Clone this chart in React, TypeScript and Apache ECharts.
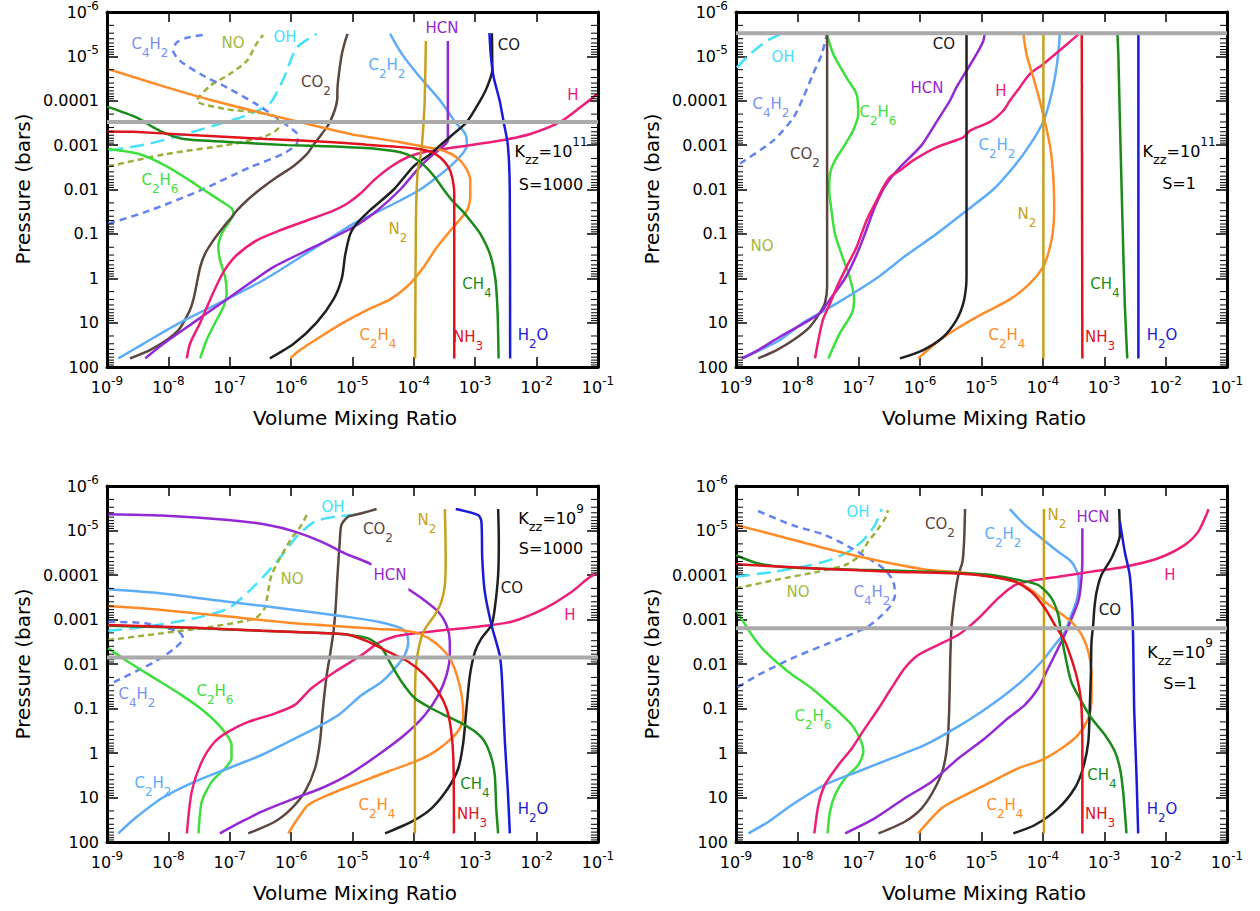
import React, { useEffect, useRef } from 'react';
import * as echarts from 'echarts';

type Pt = [number, number];

// ---------------- Panel 1: Kzz = 1e11, S = 1000 ----------------
const A_H2O: Pt[] = [[3.7e-3,64],[3.65e-3,1e-2],[3.4e-3,1e-3],[2.9e-3,3e-4],[2.5e-3,1e-4],[2.0e-3,3e-5],[1.8e-3,1e-5],[1.7e-3,3e-6]];
const A_CO: Pt[] = [[4.5e-7,64],[1.1e-6,30],[2.6e-6,10],[4.9e-6,3],[6.7e-6,1],[7.6e-6,0.3],[9.2e-6,0.1],[1.17e-5,0.059],[1.9e-5,0.03],[4.7e-5,0.01],[9.9e-5,3e-3],[1.85e-4,1.6e-3],[2.7e-4,1e-3],[4.4e-4,5.6e-4],[7.3e-4,3e-4],[1.2e-3,1e-4],[1.55e-3,5e-5],[1.9e-3,2e-5],[1.87e-3,3e-6]];
const A_NH3: Pt[] = [[4.55e-4,64],[4.55e-4,1.2e-2],[4.2e-4,5.3e-3],[3.7e-4,3.2e-3],[2.7e-4,1.9e-3],[1.85e-4,1.4e-3],[1.12e-4,1.2e-3],[4.7e-5,1.08e-3],[1.7e-5,9.8e-4],[4.9e-6,8.6e-4],[4e-7,7.3e-4],[3.3e-8,6.1e-4],[2.7e-9,5e-4],[1.0e-9,4.9e-4]];
const A_CH4: Pt[] = [[2.4e-3,64],[2.34e-3,10],[2.26e-3,3],[2.12e-3,1],[1.76e-3,0.3],[1.21e-3,0.1],[8.3e-4,0.05],[6.1e-4,0.03],[4.2e-4,0.0177],[3.05e-4,0.01],[2.2e-4,5.3e-3],[1.53e-4,3e-3],[9.9e-5,1.9e-3],[6e-5,1.45e-3],[2.5e-5,1.22e-3],[4.9e-6,1.08e-3],[8.5e-7,1e-3],[1.15e-7,8.6e-4],[1.76e-8,7.3e-4],[9.4e-9,5.6e-4],[5.7e-9,4e-4],[3.05e-9,2.4e-4],[1.0e-9,1.36e-4]];
const A_N2: Pt[] = [[1.05e-4,64],[1.08e-4,0.05],[1.15e-4,4e-3],[1.27e-4,1.9e-3],[1.35e-4,1e-3],[1.44e-4,3e-4],[1.5e-4,1e-4],[1.57e-4,4.5e-6]];
const A_HCN: Pt[] = [[4.2e-9,64],[8.3e-9,30],[2.56e-8,10],[8.9e-8,3],[2.75e-7,1],[5.15e-7,0.56],[2.3e-6,0.2],[1.04e-5,0.07],[2.5e-5,0.03],[6e-5,0.01],[1.27e-4,3e-3],[2.1e-4,1.6e-3],[2.86e-4,1.12e-3],[3.58e-4,7.9e-4],[3.58e-4,4.5e-6]];
const A_C2H2: Pt[] = [[1.53e-9,64],[3.9e-9,30],[1.55e-8,10],[8.9e-8,3],[4e-7,1],[1.6e-6,0.3],[5.6e-6,0.1],[1.04e-5,0.059],[2.8e-5,0.03],[6e-5,0.0177],[1.27e-4,0.01],[2.37e-4,5.3e-3],[3.9e-4,3e-3],[6.1e-4,1.6e-3],[7.3e-4,1e-3],[6.9e-4,5.6e-4],[4.7e-4,3e-4],[2.7e-4,1e-4],[1.27e-4,3e-5],[6.4e-5,8.9e-6],[4.1e-5,3.1e-6]];
const A_C2H4: Pt[] = [[9.6e-7,64],[1.4e-6,41.5],[3.0e-6,20.8],[7.1e-6,10],[1.71e-5,5.2],[4.1e-5,3],[8.7e-5,1.32],[1.44e-4,0.56],[2.37e-4,0.2],[4.4e-4,0.07],[7.3e-4,0.03],[8.3e-4,0.0149],[8.3e-4,6.3e-3],[6.9e-4,3.15e-3],[5e-4,1.9e-3],[3.05e-4,1.34e-3],[1.63e-4,1.12e-3],[6e-5,8.6e-4],[9.2e-6,5.6e-4],[1.8e-6,3.3e-4],[4e-7,2e-4],[5.4e-8,1e-4],[9.4e-9,5e-5],[1.05e-9,1.94e-5]];
const A_H: Pt[] = [[2e-8,64],[2.25e-8,30],[3.3e-8,10],[4.8e-8,3],[6.95e-8,1],[8.9e-8,0.56],[1.3e-7,0.3],[2.75e-7,0.14],[6.6e-7,0.083],[1.8e-6,0.05],[4.9e-6,0.03],[8.1e-6,0.021],[1.33e-5,0.0125],[2.2e-5,6.3e-3],[4.1e-5,3.15e-3],[7.7e-5,1.9e-3],[1.44e-4,1.45e-3],[3.05e-4,1.22e-3],[7.3e-4,1.03e-3],[2.56e-3,7.9e-4],[7.9e-3,5.6e-4],[0.0243,3e-4],[0.0515,1.4e-4],[0.0964,7.1e-5]];
const A_CO2: Pt[] = [[2.37e-9,64],[5e-9,41.5],[9.4e-9,24.7],[1.46e-8,14.7],[1.76e-8,10],[2.25e-8,5.2],[2.56e-8,3],[2.9e-8,1.32],[3.3e-8,0.56],[3.96e-8,0.28],[5.4e-8,0.14],[7.9e-8,0.07],[1.08e-7,0.042],[1.3e-7,0.03],[1.9e-7,0.0177],[3.1e-7,0.01],[5.8e-7,5.3e-3],[1.09e-6,3e-3],[1.8e-6,1.6e-3],[2.3e-6,1e-3],[3.16e-6,5.6e-4],[4.3e-6,3e-4],[5.6e-6,1e-4],[5.7e-6,5e-5],[6.1e-6,2.1e-5],[6.7e-6,8.9e-6],[7.6e-6,4.5e-6],[8.3e-6,3.1e-6]];
const A_C2H6: Pt[] = [[1.05e-9,1.22e-3],[3.45e-9,1.6e-3],[9.4e-9,3e-3],[2.25e-8,6.3e-3],[3.7e-8,0.01],[6.95e-8,0.0177],[1.08e-7,0.027],[1.15e-7,0.035],[1.01e-7,0.05],[7.4e-8,0.1],[6.5e-8,0.2],[6.95e-8,0.39],[8.4e-8,0.93],[8.9e-8,2.2],[7.9e-8,4.4],[5.8e-8,10],[4.2e-8,24.7],[3.3e-8,64]];
const A_OH: Pt[] = [[1.1e-9,1.33e-3],[5e-9,9.2e-4],[2e-8,5.5e-4],[1.47e-7,2.4e-4],[2.8e-7,1.68e-4],[4.5e-7,1.17e-4],[7.3e-7,3.5e-5],[1.24e-6,6.4e-6],[2.6e-6,3.1e-6]];
const A_NO: Pt[] = [[1.05e-9,3e-3],[9.4e-9,1.58e-3],[1.14e-7,9.4e-4],[4e-7,6.1e-4],[6.2e-7,4e-4],[5.8e-7,2.4e-4],[2.7e-7,1.83e-4],[8.9e-8,1.55e-4],[2.9e-8,1e-4],[4.8e-8,4.6e-5],[1e-7,2.5e-5],[1.9e-7,1.26e-5],[2.7e-7,5.3e-6],[3.5e-7,3.3e-6]];
const A_C4H2: Pt[] = [[1.05e-9,0.059],[5e-9,0.0297],[3.3e-8,0.0105],[2.1e-7,3.2e-3],[7.4e-7,1.58e-3],[1.23e-6,9.4e-4],[1.3e-6,6.1e-4],[9.5e-7,4e-4],[5.8e-7,2.4e-4],[2.7e-7,1.19e-4],[8.9e-8,5e-5],[3.3e-8,2.5e-5],[1.55e-8,1.26e-5],[1.2e-8,7.5e-6],[1.36e-8,4.9e-6],[2e-8,3.8e-6],[3.7e-8,3.3e-6]];
const A_GRAY = 3e-4;

// ---------------- Panel 2: Kzz = 1e11, S = 1 ----------------
const B_H2O: Pt[] = [[3.6e-3,64],[3.6e-3,3e-6]];
const B_CH4: Pt[] = [[2.37e-3,64],[2.16e-3,3.7],[1.98e-3,0.05],[1.8e-3,3e-4],[1.7e-3,1e-5],[1.64e-3,3e-6]];
const B_NH3: Pt[] = [[4.4e-4,64],[4.3e-4,3e-6]];
const B_N2: Pt[] = [[1.02e-4,64],[1.02e-4,3e-6]];
const B_CO: Pt[] = [[4.7e-7,64],[1.12e-6,41.5],[2.4e-6,20.8],[3.9e-6,8.8],[5.05e-6,3.7],[5.6e-6,1.57],[5.7e-6,0.79],[5.7e-6,3e-6]];
const B_C2H2: Pt[] = [[1.3e-9,64],[2.46e-9,41.5],[5.2e-9,24.7],[1.25e-8,10],[2.3e-8,6.2],[5.6e-8,3],[1.95e-7,1],[6e-7,0.3],[1.85e-6,0.1],[5.7e-6,0.03],[1.55e-5,0.01],[3.3e-5,3.15e-3],[6.1e-5,1e-3],[1.01e-4,3e-4],[1.3e-4,1e-4],[1.57e-4,3e-5],[1.78e-4,8.9e-6],[1.89e-4,3e-6]];
const B_C2H4: Pt[] = [[9.3e-7,64],[2.1e-6,24.7],[4.45e-6,12.4],[1.07e-5,6.2],[2.9e-5,3],[6.1e-5,1.32],[1.01e-4,0.56],[1.22e-4,0.28],[1.44e-4,0.1],[1.53e-4,0.03],[1.51e-4,0.01],[1.44e-4,3.15e-3],[1.3e-4,1e-3],[1.08e-4,3e-4],[8.9e-5,1e-4],[7e-5,3e-5],[5.4e-5,8.9e-6],[4.8e-5,3e-6]];
const B_H: Pt[] = [[1.94e-8,64],[2.2e-8,24.7],[2.6e-8,8.8],[3.4e-8,3.7],[4.4e-8,1.57],[6.3e-8,0.56],[9.2e-8,0.2],[1.34e-7,0.05],[1.95e-7,0.0177],[2.5e-7,8.9e-3],[3.2e-7,5.3e-3],[4.7e-7,3.7e-3],[7.7e-7,2.2e-3],[1.85e-6,1.12e-3],[5.05e-6,6.7e-4],[6.5e-6,4.7e-4],[1.37e-5,3e-4],[2.26e-5,1.68e-4],[2.9e-5,1e-4],[4.2e-5,5e-5],[6.1e-5,2.5e-5],[1.01e-4,1.5e-5],[2.14e-4,6.3e-6],[4e-4,3e-6]];
const B_HCN: Pt[] = [[1.24e-9,64],[2.3e-9,41.5],[5.2e-9,20.8],[1.33e-8,10],[2.3e-8,6.2],[3.4e-8,3],[6e-8,1],[9.2e-8,0.3],[1.26e-7,0.1],[1.73e-7,0.03],[2.5e-7,0.01],[3.4e-7,5.3e-3],[4.7e-7,3.15e-3],[1.06e-6,1e-3],[1.85e-6,3e-4],[3.05e-6,1e-4],[3.9e-6,5e-5],[5.7e-6,2.1e-5],[8.3e-6,8.9e-6],[1.07e-5,4.5e-6],[1.13e-5,3e-6]];
const B_CO2: Pt[] = [[2.3e-9,64],[4.6e-9,41.5],[8.6e-9,24.7],[1.6e-8,12.4],[2.3e-8,6.2],[2.8e-8,3.7],[3.05e-8,1.57],[3.05e-8,3e-6]];
const B_C2H6: Pt[] = [[3.2e-8,64],[4.9e-8,17.5],[7.7e-8,6.2],[8.4e-8,3],[7.2e-8,1],[5.3e-8,0.3],[4.1e-8,0.1],[3.6e-8,0.03],[3.3e-8,0.01],[3.4e-8,4.4e-3],[4.1e-8,2.2e-3],[5.6e-8,1.12e-3],[8.1e-8,4.7e-4],[9.8e-8,2e-4],[9.2e-8,7.1e-5],[6.3e-8,3e-5],[3.85e-8,8.9e-6],[3e-8,3e-6]];
const B_C4H2: Pt[] = [[1.16e-9,2.6e-3],[4.05e-9,7.9e-4],[8.6e-9,2.4e-4],[1.25e-8,8.4e-5],[1.8e-8,2.5e-5],[2.5e-8,8.9e-6],[3e-8,3.2e-6]];
const B_OH: Pt[] = [[1.03e-9,1.79e-5],[1.69e-9,8.9e-6],[3.16e-9,4.5e-6],[5.2e-9,3.2e-6]];
const B_GRAY = 3e-6;

// ---------------- Panel 3: Kzz = 1e9, S = 1000 ----------------
const C_H2O: Pt[] = [[3.66e-3,64],[3.4e-3,7.4],[3.04e-3,0.56],[2.7e-3,0.0177],[2.5e-3,6.3e-3],[1.84e-3,1.33e-3],[1.43e-3,2.4e-4],[1.3e-3,4.2e-5],[1.26e-3,6.3e-6],[1.12e-3,4.5e-6],[4.8e-4,3.3e-6]];
const C_CO: Pt[] = [[3.4e-5,64],[9.2e-5,35],[1.94e-4,17.5],[3.6e-4,6.2],[5.3e-4,2.2],[6.4e-4,0.56],[7.2e-4,0.099],[8.2e-4,0.0177],[9.9e-4,5.3e-3],[1.26e-3,2.65e-3],[1.84e-3,1.33e-3],[2.08e-3,5.6e-4],[2.36e-3,1e-4],[2.42e-3,1.78e-5],[2.36e-3,3.3e-6]];
const C_N2: Pt[] = [[1.04e-4,64],[1.04e-4,0.1],[1.06e-4,0.0177],[1.1e-4,8.9e-3],[1.2e-4,4.4e-3],[1.37e-4,2.2e-3],[1.6e-4,1.45e-3],[2.2e-4,7.9e-4],[2.8e-4,4e-4],[3.2e-4,1.68e-4],[3.3e-4,4.2e-5],[3.2e-4,3.3e-6]];
const C_NH3: Pt[] = [[4.5e-4,64],[4.4e-4,1.32],[4e-4,0.28],[3.4e-4,0.1],[2.5e-4,0.042],[1.51e-4,0.0177],[8.1e-5,8.9e-3],[3.8e-5,5.3e-3],[1.8e-5,3.15e-3],[8.5e-6,2.2e-3],[4e-6,2.05e-3],[3.3e-7,1.78e-3],[2.7e-8,1.53e-3],[1.05e-9,1.33e-3]];
const C_CH4: Pt[] = [[2.36e-3,64],[2.2e-3,17.5],[2.08e-3,3.1],[1.84e-3,1.32],[1.43e-3,0.56],[9.9e-4,0.33],[6e-4,0.215],[3.6e-4,0.153],[1.94e-4,0.1],[1.04e-4,0.059],[6.3e-5,0.025],[4.3e-5,0.0105],[3e-5,4.4e-3],[1.8e-5,2.65e-3],[8.5e-6,2.2e-3],[4e-6,2.05e-3],[3.3e-7,1.8e-3],[2.7e-8,1.56e-3],[1.05e-9,1.38e-3]];
const C_HCN: Pt[] = [[6.9e-8,64],[1.56e-7,35],[3.3e-7,20.8],[1.15e-6,10.4],[3.1e-6,6.2],[8.5e-6,3.1],[2.6e-5,1.11],[7.1e-5,0.39],[1.51e-4,0.14],[2.5e-4,0.05],[3.4e-4,0.0177],[3.85e-4,6.3e-3],[3.85e-4,3.15e-3],[3.4e-4,1.33e-3],[2.5e-4,6.7e-4],[1.33e-4,3.3e-4],[7.1e-5,1.83e-4],[2.05e-5,5.8e-5],[7.5e-6,3.26e-5],[3.1e-6,1.78e-5],[1.15e-6,1.06e-5],[4.2e-7,7.5e-6],[9.5e-8,5.8e-6],[7.8e-9,4.6e-6],[1.05e-9,4.3e-6]];
const C_C2H2: Pt[] = [[1.53e-9,64],[2.9e-9,29],[7.8e-9,10.4],[2.7e-8,4.4],[9.5e-8,2.2],[3.3e-7,1.11],[9e-7,0.56],[2.45e-6,0.28],[5.9e-6,0.14],[1.41e-5,0.05],[3e-5,0.025],[4.9e-5,0.0125],[7.1e-5,6.3e-3],[8.1e-5,3.15e-3],[7.6e-5,2.05e-3],[6.3e-5,1.58e-3],[2.6e-5,1.12e-3],[7.5e-6,8.6e-4],[1.15e-6,6.1e-4],[9.5e-8,4e-4],[7.8e-9,2.6e-4],[1.05e-9,2.1e-4]];
const C_C2H4: Pt[] = [[9e-7,64],[1.3e-6,29],[1.9e-6,14.7],[4e-6,8.8],[1.41e-5,4.4],[3.8e-5,2.6],[1.04e-4,1.57],[2.2e-4,0.93],[4.1e-4,0.47],[5.6e-4,0.28],[6.4e-4,0.14],[6e-4,0.05],[5e-4,0.0177],[3.85e-4,7.5e-3],[2.8e-4,4.4e-3],[1.94e-4,2.9e-3],[1.18e-4,2.05e-3],[6.3e-5,1.75e-3],[2.6e-5,1.63e-3],[7.5e-6,1.45e-3],[1.15e-6,1.22e-3],[9.5e-8,8.6e-4],[7.8e-9,6.1e-4],[1.05e-9,5e-4]];
const C_H: Pt[] = [[2e-8,64],[2.4e-8,7.4],[3.5e-8,1.57],[5.7e-8,0.56],[9.5e-8,0.33],[2e-7,0.2],[5.4e-7,0.13],[1.15e-6,0.083],[2.15e-6,0.035],[5.2e-6,0.0149],[1.41e-5,6.3e-3],[2.6e-5,3.4e-3],[4.9e-5,2.4e-3],[1.04e-4,2.05e-3],[3.2e-4,1.72e-3],[1.12e-3,1.45e-3],[3.9e-3,1.12e-3],[0.0136,5.6e-4],[0.037,2.4e-4],[0.069,1.19e-4],[0.094,9.2e-5]];
const C_CO2: Pt[] = [[2e-7,64],[5.4e-7,35],[1.02e-6,17.5],[1.68e-6,7.4],[2.45e-6,2.2],[2.95e-6,0.56],[3.3e-6,0.1],[3.8e-6,0.0177],[4.3e-6,6.3e-3],[4.9e-6,1.88e-3],[5.3e-6,5.6e-4],[5.7e-6,1e-4],[6.2e-6,1.78e-5],[6.6e-6,7.5e-6],[8.5e-6,4.9e-6],[1.41e-5,4.1e-6],[2.47e-5,3.3e-6]];
const C_C2H6: Pt[] = [[3.1e-8,64],[3.5e-8,12.4],[5.1e-8,4.4],[8.4e-8,2.2],[1.07e-7,1.32],[1.07e-7,0.66],[7.4e-8,0.28],[3.9e-8,0.118],[1.64e-8,0.05],[6e-9,0.021],[2.2e-9,8.9e-3],[1.05e-9,4.4e-3]];
const C_C4H2: Pt[] = [[1.05e-9,1.12e-3],[4.2e-9,1.22e-3],[1.45e-8,1.88e-3],[1.75e-8,2.65e-3],[1.28e-8,4.4e-3],[6e-9,8.9e-3],[2.9e-9,0.0149],[1.35e-9,0.025],[1.05e-9,0.031]];
const C_OH: Pt[] = [[1.05e-9,1.8e-3],[4.2e-9,1.45e-3],[2.7e-8,9.4e-4],[9.5e-8,5.6e-4],[2e-7,2.4e-4],[4.2e-7,8.4e-5],[7.9e-7,3e-5],[1.3e-6,1.26e-5],[2.45e-6,6.3e-6],[5.2e-6,4.9e-6],[1.41e-5,4.3e-6]];
const C_NO: Pt[] = [[1.05e-9,2.9e-3],[7.8e-9,2.05e-3],[5.1e-8,1.45e-3],[2.57e-7,9.4e-4],[3.7e-7,5.6e-4],[4.2e-7,2.4e-4],[4.8e-7,1e-4],[7e-7,3.6e-5],[1.02e-6,1.5e-5],[1.48e-6,7.5e-6],[1.79e-6,4.5e-6]];
const C_GRAY = 7.1e-3;

// ---------------- Panel 4: Kzz = 1e9, S = 1 ----------------
const D_H2O: Pt[] = [[3.57e-3,64],[3.35e-3,3.1],[3.07e-3,0.1],[2.96e-3,3.15e-3],[2.85e-3,5.6e-4],[2.6e-3,1e-4],[2.16e-3,3e-5],[1.8e-3,6.3e-6]];
const D_CO: Pt[] = [[3.3e-5,64],[7.4e-5,41.5],[1.78e-4,17.5],[3.3e-4,6.2],[4.5e-4,2.2],[5.5e-4,0.56],[5.8e-4,0.1],[6.05e-4,0.0177],[6.2e-4,3.15e-3],[6.6e-4,1.33e-3],[6.9e-4,5.6e-4],[7.5e-4,2.4e-4],[9e-4,1e-4],[1.31e-3,4.2e-5],[1.8e-3,1.26e-5],[1.75e-3,3.3e-6]];
const D_NH3: Pt[] = [[4.4e-4,64],[4.4e-4,0.56],[4.27e-4,0.1],[4e-4,0.042],[3.5e-4,0.0177],[2.9e-4,7.5e-3],[2.3e-4,3.15e-3],[1.57e-4,1.33e-3],[1.08e-4,5.6e-4],[6.5e-5,2.4e-4],[3.5e-5,1.41e-4],[1.46e-5,1.09e-4],[4.2e-6,9.3e-5],[3.4e-7,8.4e-5],[2.8e-8,7.3e-5],[1e-9,5.75e-5]];
const D_CH4: Pt[] = [[2.3e-3,64],[2.03e-3,7.4],[1.8e-3,2.2],[1.49e-3,0.93],[1.02e-3,0.39],[6.2e-4,0.166],[4.27e-4,0.07],[2.9e-4,0.025],[2.3e-4,6.3e-3],[2e-4,2.2e-3],[1.78e-4,7.9e-4],[1.38e-4,3.3e-4],[8.4e-5,1.68e-4],[4e-5,1.3e-4],[1.46e-5,1e-4],[1.2e-6,8.4e-5],[9.8e-8,7.6e-5],[8.1e-9,6.8e-5],[2.3e-9,5.5e-5],[1e-9,3.6e-5]];
const D_C2H4: Pt[] = [[9.3e-7,64],[2.24e-6,17.5],[5.4e-6,8.8],[1.46e-5,4.4],[4e-5,2.2],[9.5e-5,1.44],[2e-4,0.79],[3.76e-4,0.39],[5.5e-4,0.166],[6.2e-4,0.07],[6.2e-4,0.0177],[5.5e-4,5.3e-3],[4.27e-4,2.2e-3],[2.9e-4,1.12e-3],[1.78e-4,6.7e-4],[1.08e-4,4e-4],[6.5e-5,2.17e-4],[3.5e-5,1.41e-4],[1.46e-5,1.09e-4],[4.2e-6,8.7e-5],[1.2e-6,7.5e-5],[1.84e-7,4.6e-5],[2.8e-8,2.5e-5],[4.3e-9,1.26e-5],[1e-9,7.5e-6]];
const D_N2: Pt[] = [[1.04e-4,64],[1.04e-4,3.3e-6]];
const D_HCN: Pt[] = [[6e-8,64],[1.84e-7,29],[5.6e-7,10.4],[1.54e-6,4.4],[4.2e-6,1.32],[1.13e-5,0.47],[2.7e-5,0.166],[5.1e-5,0.083],[8.4e-5,0.035],[1.22e-4,0.0125],[1.78e-4,4.4e-3],[2.4e-4,1.88e-3],[3.1e-4,7.9e-4],[3.76e-4,4e-4],[4.16e-4,1.68e-4],[4.4e-4,4.2e-5],[4.4e-4,8.9e-6]];
const D_C2H2: Pt[] = [[1.59e-9,64],[3.4e-9,35],[8.1e-9,14.7],[2.8e-8,5.2],[9.8e-8,2.6],[3.4e-7,1.32],[1.2e-6,0.66],[3.7e-6,0.28],[1e-5,0.118],[2.4e-5,0.05],[5.1e-5,0.021],[9.5e-5,8.9e-3],[1.57e-4,3.7e-3],[2.3e-4,1.88e-3],[2.9e-4,7.9e-4],[3.5e-4,4e-4],[3.85e-4,1.68e-4],[3.76e-4,1e-4],[2.9e-4,5e-5],[1.78e-4,3e-5],[9.5e-5,1.5e-5],[5.1e-5,7.5e-6],[2.9e-5,3.3e-6]];
const D_H: Pt[] = [[1.89e-8,64],[2.2e-8,14.7],[2.8e-8,5.2],[4.65e-8,1.86],[7.7e-8,0.79],[1.26e-7,0.28],[2.1e-7,0.1],[3.4e-7,0.035],[5.6e-7,0.0125],[9.3e-7,6.3e-3],[1.97e-6,3.7e-3],[4.2e-6,2.2e-3],[8.9e-6,9.4e-4],[1.88e-5,3.3e-4],[3.5e-5,1.68e-4],[7.4e-5,1.3e-4],[1.78e-4,1.09e-4],[6.2e-4,8.4e-5],[2.17e-3,6.5e-5],[7.6e-3,4.2e-5],[0.0206,2.1e-5],[0.034,1.06e-5],[0.046,4.5e-6],[0.05,3.3e-6]];
const D_CO2: Pt[] = [[2.1e-7,64],[5.6e-7,35],[1.06e-6,17.5],[1.74e-6,6.2],[2.38e-6,2.2],[2.8e-6,0.56],[2.98e-6,0.1],[3.1e-6,7.5e-3],[3.26e-6,1.33e-3],[3.7e-6,2.8e-4],[4.2e-6,1e-4],[4.9e-6,5e-5],[5.2e-6,1.78e-5],[5.4e-6,3.3e-6]];
const D_C2H6: Pt[] = [[3.1e-8,64],[3.4e-8,20.8],[4.1e-8,8.8],[6e-8,3.7],[9.8e-8,1.86],[1.19e-7,0.93],[1.1e-7,0.56],[7.7e-8,0.235],[4.1e-8,0.1],[1.7e-8,0.035],[7.1e-9,0.0149],[3e-9,5.3e-3],[1.8e-9,2.2e-3],[1e-9,6.1e-4]];
const D_C4H2: Pt[] = [[2.3e-9,3.65e-6],[8.1e-9,7.5e-6],[2.8e-8,1.26e-5],[6.8e-8,2.3e-5],[1.43e-7,4.2e-5],[2.7e-7,7.7e-5],[3.65e-7,1.41e-4],[3.9e-7,2.8e-4],[3.2e-7,5.2e-4],[2.1e-7,9.4e-4],[1.26e-7,1.58e-3],[2.8e-8,3.7e-3],[8.1e-9,7.5e-3],[2.3e-9,0.0177],[1e-9,0.035]];
const D_OH: Pt[] = [[1e-9,1.09e-4],[4.3e-9,8.4e-5],[1.7e-8,5.96e-5],[4.1e-8,4.2e-5],[7.7e-8,2.7e-5],[1.26e-7,1.5e-5],[1.84e-7,7.5e-6],[2.36e-7,3.3e-6]];
const D_NO: Pt[] = [[1e-9,2e-4],[4.3e-9,1.3e-4],[2.2e-8,8.4e-5],[6e-8,5.96e-5],[9.8e-8,3.9e-5],[1.43e-7,1.78e-5],[2.1e-7,8.9e-6],[2.7e-7,5.3e-6],[3e-7,3.46e-6]];
const D_GRAY = 1.58e-3;

// ---------------- Axis ticks / panel texts ----------------
const X_MIN = 1e-9, X_MAX = 0.1;
const Y_MIN = 1e-6, Y_MAX = 100;
const Y_TICK_LABELS = ['{b|10}{s|-6}', '{b|10}{s|-5}', '{b|0.0001}', '{b|0.001}', '{b|0.01}', '{b|0.1}', '{b|1}', '{b|10}', '{b|100}'];
const MINOR_MANTISSA = [2, 3, 4, 5, 6, 7, 8, 9];
const MINOR_DECADES = [1e-6, 1e-5, 1e-4, 1e-3, 1e-2, 1e-1, 1, 10];
const KZZ_EXP = ['11', '11', '9', '9'];
const S_VALUES = ['1000', '1', '1000', '1'];
const GRAY_P = [A_GRAY, B_GRAY, C_GRAY, D_GRAY];

const PANEL_DATA: Record<string, Pt[]>[] = [
  { OH: A_OH, NO: A_NO, C4H2: A_C4H2, C2H6: A_C2H6, CO2: A_CO2, C2H2: A_C2H2, HCN: A_HCN, H: A_H, C2H4: A_C2H4, CO: A_CO, N2: A_N2, CH4: A_CH4, NH3: A_NH3, H2O: A_H2O },
  { OH: B_OH, C4H2: B_C4H2, C2H6: B_C2H6, CO2: B_CO2, C2H2: B_C2H2, HCN: B_HCN, H: B_H, C2H4: B_C2H4, CO: B_CO, N2: B_N2, CH4: B_CH4, NH3: B_NH3, H2O: B_H2O },
  { OH: C_OH, NO: C_NO, C4H2: C_C4H2, C2H6: C_C2H6, CO2: C_CO2, C2H2: C_C2H2, HCN: C_HCN, H: C_H, C2H4: C_C2H4, CO: C_CO, N2: C_N2, CH4: C_CH4, NH3: C_NH3, H2O: C_H2O },
  { OH: D_OH, NO: D_NO, C4H2: D_C4H2, C2H6: D_C2H6, CO2: D_CO2, C2H2: D_C2H2, HCN: D_HCN, H: D_H, C2H4: D_C2H4, CO: D_CO, N2: D_N2, CH4: D_CH4, NH3: D_NH3, H2O: D_H2O },
];

const DRAW_ORDER = ['OH', 'NO', 'C4H2', 'C2H6', 'CO2', 'C2H2', 'HCN', 'H', 'C2H4', 'CO', 'N2', 'CH4', 'NH3', 'H2O'];

const STYLE: Record<string, { color: string; dash?: number[]; label?: string }> = {
  H2O: { color: '#1a1ad8' },
  CO: { color: '#202020' },
  NH3: { color: '#e0141e' },
  CH4: { color: '#1a8a1a' },
  N2: { color: '#c9a020' },
  HCN: { color: '#9428d4' },
  C2H2: { color: '#5cacf8' },
  C2H4: { color: '#ff8c28' },
  H: { color: '#ee1e78' },
  CO2: { color: '#5c4640' },
  C2H6: { color: '#3ee03e' },
  OH: { color: '#44e2fa', dash: [14, 7] },
  NO: { color: '#9cb03a', dash: [6, 4], label: '#a4b840' },
  C4H2: { color: '#6482f0', dash: [7, 5], label: '#7a92f0' },
};

// layout (pixels)
const PANEL_POS: [number, number][] = [[107, 11], [736, 11], [107, 486], [736, 486]];
const PLOT_W = 491;
const PLOT_H = 356;
const FONT = 'DejaVu Sans';
// [x, y of Kzz line, y of S line]
const KZZ_POS: [number, number, number][] = [[551, 151, 184], [1179, 151, 183], [551, 518, 548], [1180, 652, 683]];

// species label placement: [species, x, y]
const LABELS: [string, number, number][][] = [
  [['C4H2', 150, 44], ['NO', 233, 43], ['OH', 285, 37], ['CO2', 316, 82], ['C2H2', 387, 65], ['HCN', 442, 28], ['CO', 509, 45], ['H', 573, 95],
   ['C2H6', 160, 180], ['N2', 398, 229], ['CH4', 477, 284], ['C2H4', 378, 335], ['NH3', 468, 337], ['H2O', 533, 335]],
  [['OH', 783, 57], ['C4H2', 771, 104], ['CO2', 805, 154], ['C2H6', 878, 112], ['CO', 944, 44], ['HCN', 927, 88], ['H', 1001, 91], ['C2H2', 997, 145],
   ['N2', 1027, 214], ['NO', 762, 246], ['CH4', 1105, 284], ['C2H4', 1007, 335], ['NH3', 1100, 337], ['H2O', 1162, 335]],
  [['OH', 333, 507], ['CO2', 378, 529], ['N2', 427, 520], ['NO', 292, 579], ['HCN', 390, 575], ['CO', 512, 588], ['H', 570, 615],
   ['C4H2', 137, 694], ['C2H6', 215, 691], ['C2H2', 153, 783], ['CH4', 475, 784], ['C2H4', 377, 805], ['NH3', 472, 814], ['H2O', 533, 809]],
  [['OH', 858, 512], ['CO2', 940, 524], ['N2', 1057, 515], ['HCN', 1093, 517], ['C2H2', 1003, 534], ['H', 1170, 575], ['NO', 798, 592],
   ['C4H2', 872, 592], ['CO', 1110, 610], ['C2H6', 813, 716], ['CH4', 1102, 775], ['C2H4', 1005, 805], ['NH3', 1100, 814], ['H2O', 1162, 809]],
];

const chem = (f: string) => f.replace(/([A-Za-z]+)|(\d+)/g, (_m, a, d) => (a ? `{n|${a}}` : `{s|${d}}`));

const LABEL_RICH = {
  n: { fontSize: 15, fontFamily: FONT, lineHeight: 30, verticalAlign: 'middle' },
  s: { fontSize: 12, fontFamily: FONT, lineHeight: 30, verticalAlign: 'bottom' },
  k: { fontSize: 16, fontFamily: FONT, lineHeight: 30, verticalAlign: 'middle' },
  ks: { fontSize: 13, fontFamily: FONT, lineHeight: 30, verticalAlign: 'bottom' },
  kp: { fontSize: 12, fontFamily: FONT, lineHeight: 30, verticalAlign: 'top' },
};

const TICK_RICH = {
  b: { fontSize: 16, fontFamily: FONT, color: '#000', lineHeight: 24, verticalAlign: 'middle' },
  s: { fontSize: 12, fontFamily: FONT, color: '#000', lineHeight: 24, verticalAlign: 'top' },
};

export default function App() {
  const ref = useRef<HTMLDivElement>(null);
  useEffect(() => {
    if (!ref.current) return;
    const chart = echarts.init(ref.current, undefined, { renderer: 'svg' });
    const grid: any[] = [];
    const xAxis: any[] = [];
    const yAxis: any[] = [];
    const series: any[] = [];
    const graphic: any[] = [];
    const minorP = MINOR_DECADES.flatMap((d) => MINOR_MANTISSA.map((m) => +(m * d).toPrecision(3)));

    const xFmt = (v: number) => `{b|10}{s|${Math.round(Math.log10(v))}}`;
    const yFmt = (v: number) => {
      const e = Math.round(Math.log10(v));
      return Y_TICK_LABELS[e + 6] ?? '';
    };
    const center = { align: 'center', verticalAlign: 'middle', textAlign: 'center', textVerticalAlign: 'middle' };

    PANEL_POS.forEach(([left, top], i) => {
      grid.push({ left, top, width: PLOT_W, height: PLOT_H, containLabel: false, show: false });
      const axisLine = { show: true, onZero: false, lineStyle: { color: '#000', width: 3 } };
      const xTick = { show: true, inside: true, length: 10, lineStyle: { color: '#000', width: 1.5 } };
      const yTick = { show: true, inside: true, length: 11, lineStyle: { color: '#000', width: 1.5 } };
      const common = { type: 'log', logBase: 10, gridIndex: i, splitLine: { show: false }, minorTick: { show: false }, minorSplitLine: { show: false }, axisPointer: { show: false } };
      xAxis.push({
        ...common, position: 'bottom', min: X_MIN, max: X_MAX, axisLine, axisTick: xTick,
        axisLabel: { show: true, interval: 0, showMinLabel: true, showMaxLabel: true, margin: 8, formatter: xFmt, rich: TICK_RICH },
      });
      xAxis.push({ ...common, position: 'top', min: X_MIN, max: X_MAX, axisLine, axisTick: xTick, axisLabel: { show: false } });
      yAxis.push({
        ...common, position: 'left', inverse: true, min: Y_MIN, max: Y_MAX, axisLine, axisTick: yTick,
        axisLabel: { show: true, interval: 0, showMinLabel: true, showMaxLabel: true, margin: 8, formatter: yFmt, rich: TICK_RICH },
      });
      yAxis.push({ ...common, position: 'right', inverse: true, min: Y_MIN, max: Y_MAX, axisLine, axisTick: yTick, axisLabel: { show: false } });

      const xi = 2 * i;
      // minor ticks on left and right y axes
      series.push({
        type: 'custom', xAxisIndex: xi, yAxisIndex: xi, silent: true, clip: false, z: 3,
        data: minorP.map((p) => [X_MIN, p]),
        renderItem: (_params: any, api: any) => {
          const p = api.value(1);
          const a = api.coord([X_MIN, p]);
          const b = api.coord([X_MAX, p]);
          return {
            type: 'group',
            children: [
              { type: 'line', shape: { x1: a[0], y1: a[1], x2: a[0] + 7, y2: a[1] }, style: { stroke: '#000', lineWidth: 1 } },
              { type: 'line', shape: { x1: b[0] - 7, y1: b[1], x2: b[0], y2: b[1] }, style: { stroke: '#000', lineWidth: 1 } },
            ],
          };
        },
      });

      DRAW_ORDER.forEach((name) => {
        const data = PANEL_DATA[i][name];
        if (!data) return;
        const st = STYLE[name];
        series.push({
          type: 'line', name, xAxisIndex: xi, yAxisIndex: xi, data, showSymbol: false, symbol: 'none',
          smooth: 0.25, silent: true, clip: true, z: 2,
          lineStyle: { color: st.color, width: 2.5, type: st.dash || 'solid' },
        });
      });
      series.push({
        type: 'line', name: 'gray', xAxisIndex: xi, yAxisIndex: xi, showSymbol: false, symbol: 'none', silent: true, z: 4,
        data: [[X_MIN, GRAY_P[i]], [X_MAX, GRAY_P[i]]],
        lineStyle: { color: '#aaaaaa', width: 4 },
      });

      // axis titles
      graphic.push({
        type: 'text', x: left - 84, y: top + 178, rotation: Math.PI / 2, silent: true,
        style: { text: 'Pressure (bars)', fill: '#000', fontSize: 20, fontFamily: FONT, ...center },
      });
      graphic.push({
        type: 'text', x: left + 248, y: top + 407, silent: true,
        style: { text: 'Volume Mixing Ratio', fill: '#000', fontSize: 20, fontFamily: FONT, ...center },
      });
      // Kzz / S annotations
      const [kx, ky, sy] = KZZ_POS[i];
      graphic.push({
        type: 'text', x: kx, y: ky, silent: true, z: 10,
        style: { text: `{k|K}{ks|zz}{k|=10}{kp|${KZZ_EXP[i]}}`, rich: LABEL_RICH, fill: '#000', ...center },
      });
      graphic.push({
        type: 'text', x: kx, y: sy, silent: true, z: 10,
        style: { text: `{k|S=${S_VALUES[i]}}`, rich: LABEL_RICH, fill: '#000', ...center },
      });
      // species labels
      LABELS[i].forEach(([name, x, y]) => {
        const st = STYLE[name];
        const bg = i === 2 && name === 'HCN' ? '#ffffff' : undefined;
        graphic.push({
          type: 'text', x, y, silent: true, z: 10,
          style: {
            text: chem(name), rich: LABEL_RICH, fill: st.label || st.color, ...center,
            backgroundColor: bg, padding: bg ? [0, 2] : 0,
          },
        });
      });
    });

    chart.setOption({
      animation: false,
      backgroundColor: '#ffffff',
      grid, xAxis, yAxis, series, graphic,
    });
    return () => chart.dispose();
  }, []);

  return <div ref={ref} style={{ position: 'absolute', left: 0, top: 0, width: 1260, height: 911 }} />;
}
